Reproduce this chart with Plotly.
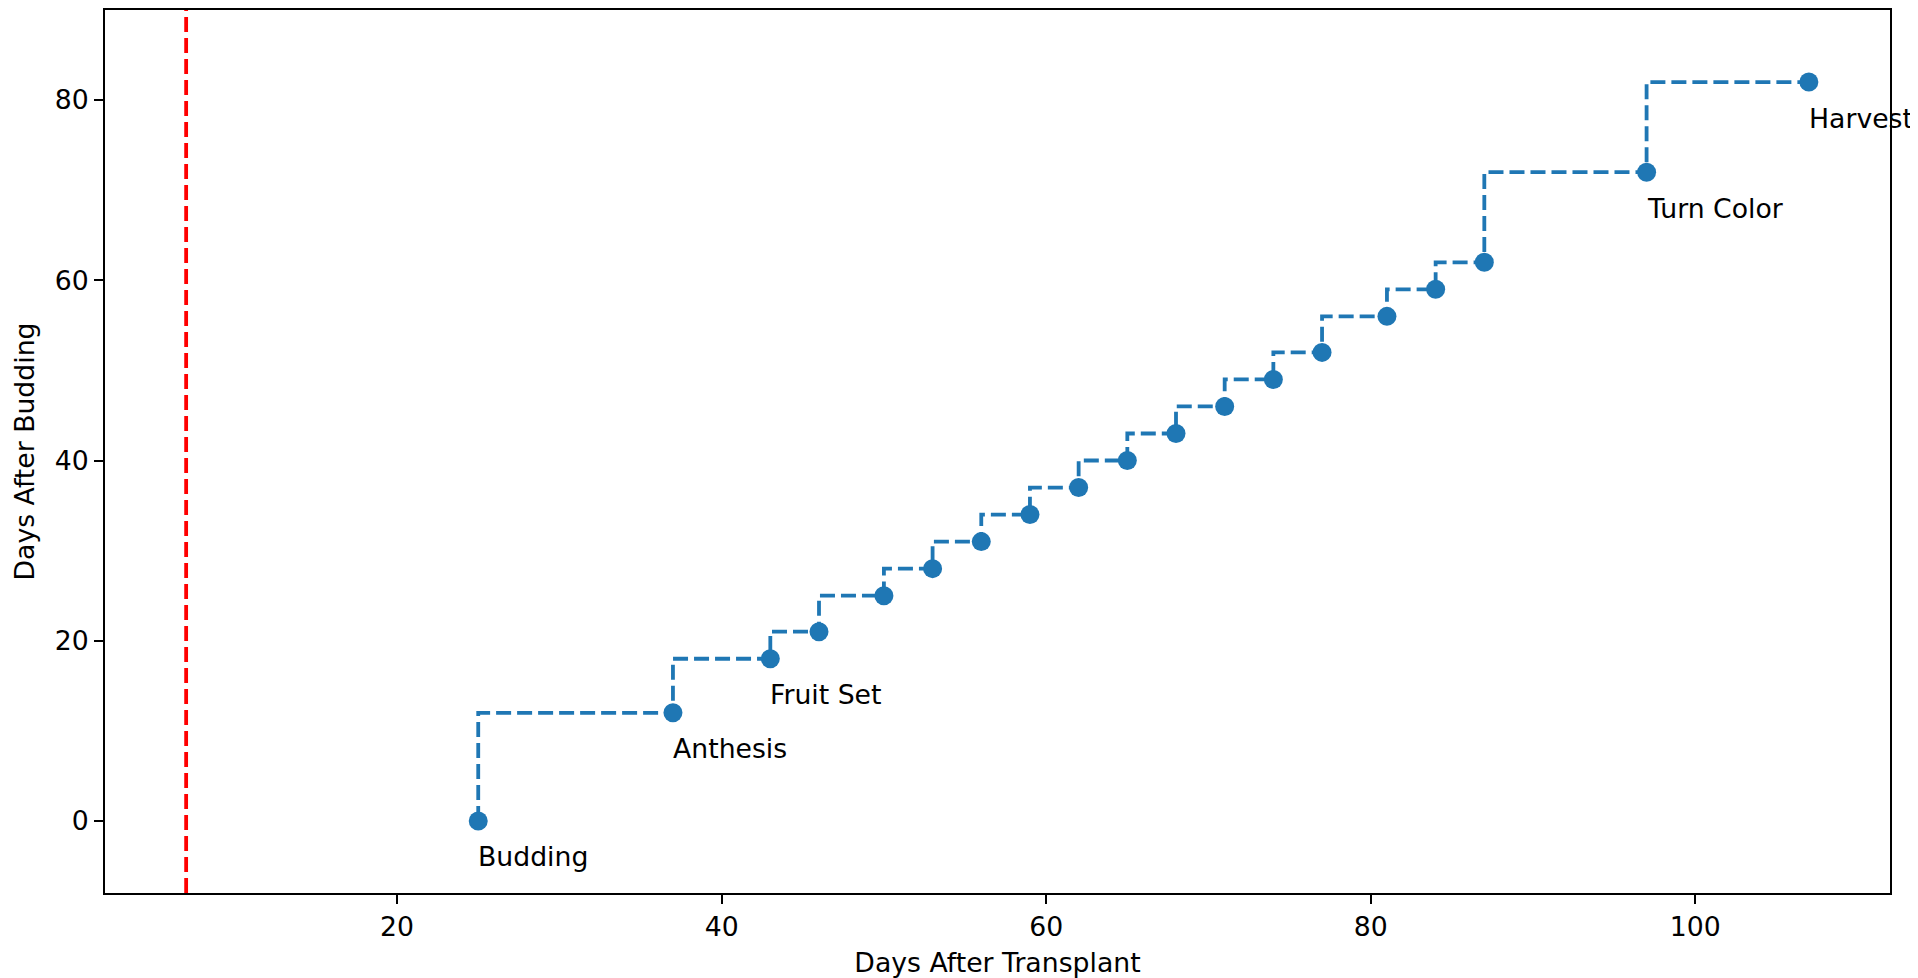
import plotly.graph_objects as go

# Data
days_after_transplant = [25, 37, 43, 46, 50, 53, 56, 59, 62, 65, 68, 71, 74, 77, 81, 84, 87, 97, 107]
days_after_budding = [0, 12, 18, 21, 25, 28, 31, 34, 37, 40, 43, 46, 49, 52, 56, 59, 62, 72, 82]
stage_x = [25, 37, 43, 97, 107]
stage_y = [0, 12, 18, 72, 82]
stage_labels = ["Budding", "Anthesis", "Fruit Set", "Turn Color", "Harvest"]
transplant_line_x = 7
x_ticks = [20, 40, 60, 80, 100]
y_ticks = [0, 20, 40, 60, 80]

BLUE = "#1f77b4"
FONT = "DejaVu Sans"
FS = 26.7

fig = go.Figure()
fig.add_trace(go.Scatter(
    x=days_after_transplant, y=days_after_budding,
    mode="lines+markers",
    line=dict(shape="vh", color=BLUE, width=3.8, dash="15px,6px"),
    marker=dict(color=BLUE, size=19, line=dict(width=0)),
    showlegend=False, cliponaxis=False,
))

fig.add_shape(type="line", xref="x", yref="paper",
              x0=transplant_line_x, x1=transplant_line_x, y0=0, y1=1,
              line=dict(color="red", width=3.8, dash="15px,6px"))

for sx, sy, lab in zip(stage_x, stage_y, stage_labels):
    fig.add_annotation(x=sx, y=sy - 4.0, text=lab, showarrow=False,
                       xanchor="left", yanchor="middle", xshift=-2,
                       font=dict(family=FONT, size=FS, color="black"))

axis_common = dict(
    showline=True, linecolor="black", linewidth=2, mirror=True,
    showgrid=False, zeroline=False,
    ticks="outside", ticklen=9, tickwidth=2, tickcolor="black",
    tickfont=dict(family=FONT, size=FS, color="black"),
)

fig.update_layout(
    width=1910, height=970,
    margin=dict(l=97, r=28, t=0, b=83),
    paper_bgcolor="white", plot_bgcolor="white",
    font=dict(family=FONT, size=FS, color="black"),
    xaxis=dict(range=[2, 112], tickvals=x_ticks,
               title=dict(text="Days After Transplant", font=dict(family=FONT, size=FS), standoff=17),
               **axis_common),
    yaxis=dict(range=[-8, 90], tickvals=y_ticks,
               title=dict(text="Days After Budding", font=dict(family=FONT, size=FS), standoff=12),
               **axis_common),
)

fig.write_html("out.html")
